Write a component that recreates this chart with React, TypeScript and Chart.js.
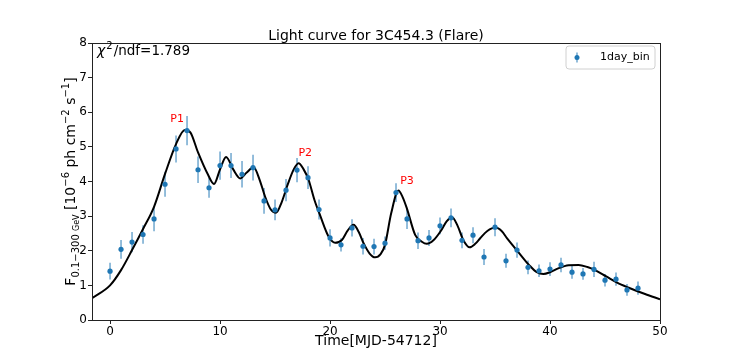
import React, { useEffect, useRef } from "react";
import { Chart, registerables } from "chart.js";
Chart.register(...registerables);

const days = [0, 1, 2, 3, 4, 5, 6, 7, 8, 9, 10, 11, 12, 13, 14, 15, 16, 17, 18, 19, 20, 21, 22, 23, 24, 25, 26, 27, 28, 29, 30, 31, 32, 33, 34, 35, 36, 37, 38, 39, 40, 41, 42, 43, 44, 45, 46, 47, 48];
const flux = [1.41, 2.04, 2.25, 2.47, 2.92, 3.92, 4.94, 5.47, 4.34, 3.82, 4.46, 4.46, 4.21, 4.40, 3.44, 3.18, 3.75, 4.33, 4.11, 3.19, 2.37, 2.17, 2.66, 2.13, 2.12, 2.22, 3.68, 2.92, 2.29, 2.37, 2.72, 2.95, 2.30, 2.45, 1.82, 2.68, 1.71, 2.02, 1.52, 1.42, 1.47, 1.59, 1.38, 1.33, 1.46, 1.15, 1.18, 0.87, 0.92];
const fluxErr = [0.24, 0.27, 0.29, 0.27, 0.36, 0.36, 0.39, 0.42, 0.38, 0.29, 0.41, 0.36, 0.38, 0.37, 0.37, 0.30, 0.32, 0.35, 0.33, 0.29, 0.25, 0.19, 0.25, 0.24, 0.23, 0.19, 0.27, 0.29, 0.24, 0.23, 0.24, 0.27, 0.23, 0.23, 0.23, 0.26, 0.20, 0.22, 0.20, 0.18, 0.20, 0.21, 0.19, 0.17, 0.22, 0.18, 0.19, 0.17, 0.19];

const fitX = [-1.64, 0, 1, 2, 3, 4, 5, 6, 6.8, 7.3, 8, 8.9, 9.45, 10.0, 10.55, 11.2, 11.84, 12.4, 13.05, 13.6, 14.1, 14.6, 15.1, 15.6, 16.14, 16.7, 17.14, 17.6, 18.05, 18.6, 19.1, 19.87, 20.47, 21.08, 21.6, 22.14, 22.6, 23.05, 23.6, 24.1, 24.6, 25.0, 25.56, 26.22, 26.6, 26.98, 27.74, 28.35, 28.8, 29.4, 30.07, 30.6, 31.1, 31.6, 32.1, 32.7, 33.2, 33.65, 34.3, 35.05, 35.6, 36.1, 37.1, 38.15, 38.8, 39.4, 40.0, 40.8, 41.7, 42.6, 43.4, 44.1, 45.15, 46.1, 47.1, 48.64, 50.0];
const fitY = [0.63, 1.0, 1.44, 2.02, 2.63, 3.27, 4.22, 5.08, 5.49, 5.42, 4.84, 4.2, 3.93, 4.35, 4.71, 4.35, 4.09, 4.25, 4.41, 4.05, 3.56, 3.2, 3.10, 3.4, 3.90, 4.35, 4.53, 4.35, 4.05, 3.45, 3.02, 2.41, 2.23, 2.31, 2.58, 2.75, 2.55, 2.22, 1.92, 1.81, 1.9, 2.17, 3.08, 3.74, 3.55, 3.23, 2.46, 2.26, 2.20, 2.3, 2.57, 2.85, 2.97, 2.72, 2.32, 2.10, 2.2, 2.36, 2.57, 2.67, 2.57, 2.36, 1.97, 1.57, 1.38, 1.33, 1.38, 1.50, 1.58, 1.59, 1.53, 1.44, 1.25, 1.08, 0.94, 0.75, 0.60];

const xTicks = [0, 10, 20, 30, 40, 50];
const yTicks = [0, 1, 2, 3, 4, 5, 6, 7, 8];
const peakLabels = ["P1", "P2", "P3"];
const peakX = [6.1, 17.75, 27.0];
const peakY = [5.8, 4.83, 4.02];

const titleText = "Light curve for 3C454.3 (Flare)";
const xLabelText = "Time[MJD-54712]";
const legendText = "1day_bin";
const chiValue = "1.789";

const FONT = "'DejaVu Sans', 'Liberation Sans', sans-serif";
const BLUE = "#1f77b4";

const overlay = {
  id: "overlay",
  beforeDatasetsDraw(chart: any) {
    const ctx = chart.ctx;
    const xs = chart.scales.x;
    const ys = chart.scales.y;
    ctx.save();
    ctx.strokeStyle = "rgba(31,119,180,0.6)";
    ctx.lineWidth = 1.6;
    for (let i = 0; i < days.length; i++) {
      const px = xs.getPixelForValue(days[i]);
      ctx.beginPath();
      ctx.moveTo(px, ys.getPixelForValue(flux[i] - fluxErr[i]));
      ctx.lineTo(px, ys.getPixelForValue(flux[i] + fluxErr[i]));
      ctx.stroke();
    }
    ctx.restore();
  },
  afterDraw(chart: any) {
    const ctx = chart.ctx;
    const a = chart.chartArea;
    const xs = chart.scales.x;
    const ys = chart.scales.y;
    ctx.save();
    // spines
    ctx.strokeStyle = "#222";
    ctx.lineWidth = 1;
    ctx.strokeRect(Math.round(a.left) + 0.5, Math.round(a.top) + 0.5, Math.round(a.right - a.left), Math.round(a.bottom - a.top));

    // title
    ctx.fillStyle = "#000";
    ctx.font = `14px ${FONT}`;
    ctx.textAlign = "center";
    ctx.textBaseline = "middle";
    ctx.fillText(titleText, (a.left + a.right) / 2, 36);

    // x label
    ctx.font = `14px ${FONT}`;
    ctx.fillText(xLabelText, (a.left + a.right) / 2, 341);

    // chi2 text
    ctx.textAlign = "left";
    ctx.textBaseline = "alphabetic";
    let cx = a.left + 5;
    const by = 55;
    ctx.font = `italic 14px ${FONT}`;
    ctx.fillText("\u03c7", cx, by);
    cx += ctx.measureText("\u03c7").width + 1;
    ctx.font = `10px ${FONT}`;
    ctx.fillText("2", cx, by - 6);
    cx += ctx.measureText("2").width + 1;
    ctx.font = `13.5px ${FONT}`;
    ctx.fillText("/ndf=" + chiValue, cx, by);

    // peak labels
    ctx.fillStyle = "#ff0000";
    ctx.font = `11px ${FONT}`;
    ctx.textAlign = "center";
    ctx.textBaseline = "middle";
    for (let i = 0; i < peakLabels.length; i++) {
      ctx.fillText(peakLabels[i], xs.getPixelForValue(peakX[i]), ys.getPixelForValue(peakY[i]));
    }

    // legend
    const lx = 566, ly = 46, lw = 89, lh = 23, r = 3;
    ctx.beginPath();
    ctx.moveTo(lx + r, ly);
    ctx.lineTo(lx + lw - r, ly);
    ctx.quadraticCurveTo(lx + lw, ly, lx + lw, ly + r);
    ctx.lineTo(lx + lw, ly + lh - r);
    ctx.quadraticCurveTo(lx + lw, ly + lh, lx + lw - r, ly + lh);
    ctx.lineTo(lx + r, ly + lh);
    ctx.quadraticCurveTo(lx, ly + lh, lx, ly + lh - r);
    ctx.lineTo(lx, ly + r);
    ctx.quadraticCurveTo(lx, ly, lx + r, ly);
    ctx.closePath();
    ctx.fillStyle = "rgba(255,255,255,0.8)";
    ctx.fill();
    ctx.strokeStyle = "#d0d0d0";
    ctx.lineWidth = 1;
    ctx.stroke();
    const mx = 577, my = ly + lh / 2;
    ctx.strokeStyle = "rgba(31,119,180,0.6)";
    ctx.lineWidth = 1.6;
    ctx.beginPath();
    ctx.moveTo(mx, my - 5);
    ctx.lineTo(mx, my + 5);
    ctx.stroke();
    ctx.fillStyle = BLUE;
    ctx.beginPath();
    ctx.arc(mx, my, 2.5, 0, Math.PI * 2);
    ctx.fill();
    ctx.fillStyle = "#000";
    ctx.font = `11px ${FONT}`;
    ctx.textAlign = "left";
    ctx.textBaseline = "middle";
    ctx.fillText(legendText, 600, my);

    // y label (rotated, with sub/superscripts)
    const big = `14px ${FONT}`;
    const small = `10px ${FONT}`;
    const tiny = `8px ${FONT}`;
    const parts = [
      { t: "F", f: big, dy: 0 },
      { t: "0.1\u2212300 ", f: small, dy: 4 },
      { t: "GeV", f: tiny, dy: 4 },
      { t: " [10", f: big, dy: 0 },
      { t: "\u22126", f: small, dy: -6 },
      { t: " ph cm", f: big, dy: 0 },
      { t: "\u22122", f: small, dy: -6 },
      { t: " s", f: big, dy: 0 },
      { t: "\u22121", f: small, dy: -6 },
      { t: "]", f: big, dy: 0 },
    ];
    let total = 0;
    const widths: number[] = [];
    for (const p of parts) {
      ctx.font = p.f;
      const w = ctx.measureText(p.t).width;
      widths.push(w);
      total += w;
    }
    ctx.translate(70, (a.top + a.bottom) / 2);
    ctx.rotate(-Math.PI / 2);
    ctx.textAlign = "left";
    ctx.textBaseline = "alphabetic";
    let tx = -total / 2;
    for (let i = 0; i < parts.length; i++) {
      ctx.font = parts[i].f;
      ctx.fillText(parts[i].t, tx, 5 + parts[i].dy);
      tx += widths[i];
    }
    ctx.restore();
  },
};

export default function App() {
  const ref = useRef<HTMLCanvasElement | null>(null);
  useEffect(() => {
    if (!ref.current) return;
    const chart = new Chart(ref.current, {
      type: "scatter",
      data: {
        datasets: [
          {
            label: "1day_bin",
            data: days.map((d, i) => ({ x: d, y: flux[i] })),
            pointRadius: 2.6,
            pointHoverRadius: 2.6,
            backgroundColor: BLUE,
            borderColor: BLUE,
            borderWidth: 0,
            showLine: false,
            order: 0,
          },
          {
            label: "fit",
            data: fitX.map((x, i) => ({ x, y: fitY[i] })),
            showLine: true,
            pointRadius: 0,
            borderColor: "#000",
            borderWidth: 2,
            cubicInterpolationMode: "monotone",
            order: 1,
          } as any,
        ],
      },
      options: {
        responsive: false,
        animation: false,
        events: [],
        layout: { padding: { left: 0, right: 74, top: 43, bottom: 0 } },
        plugins: { legend: { display: false }, tooltip: { enabled: false }, title: { display: false } },
        scales: {
          x: {
            type: "linear",
            min: -1.64,
            max: 50,
            afterFit: (s: any) => { s.height = 40; },
            afterBuildTicks: (s: any) => { s.ticks = xTicks.map((v) => ({ value: v })); },
            grid: { display: true, drawOnChartArea: false, drawTicks: true, tickLength: 4, color: "#222" },
            border: { display: false },
            ticks: { color: "#000", font: { family: FONT, size: 12 }, padding: 1, maxRotation: 0, autoSkip: false },
          },
          y: {
            type: "linear",
            min: 0,
            max: 8,
            afterFit: (s: any) => { s.width = 92; },
            afterBuildTicks: (s: any) => { s.ticks = yTicks.map((v) => ({ value: v })); },
            grid: { display: true, drawOnChartArea: false, drawTicks: true, tickLength: 4, color: "#222" },
            border: { display: false },
            ticks: { color: "#000", font: { family: FONT, size: 12 }, padding: 1, autoSkip: false },
          },
        },
      },
      plugins: [overlay],
    });
    return () => chart.destroy();
  }, []);
  return (
    <div style={{ position: "absolute", left: 0, top: 0, width: 734, height: 360, background: "#fff" }}>
      <canvas ref={ref} width={734} height={360} style={{ display: "block", width: 734, height: 360 }} />
    </div>
  );
}
